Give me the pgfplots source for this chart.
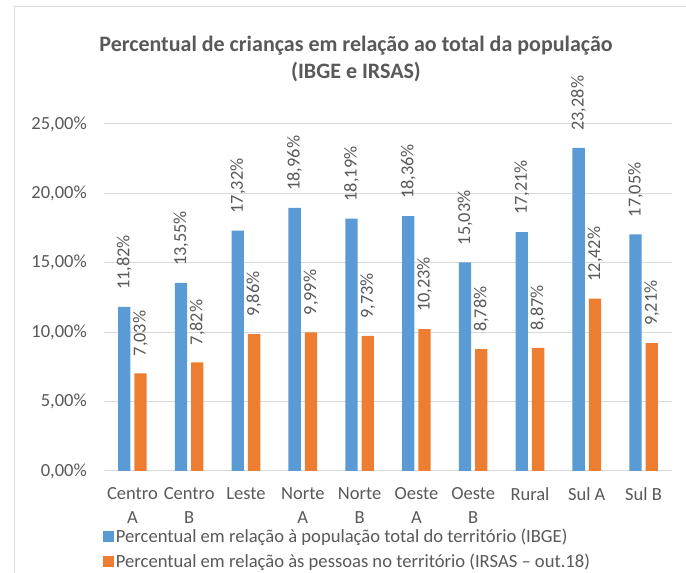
\documentclass[border=0pt]{standalone}
\usepackage{fontspec}
\setmainfont{Carlito}
\usepackage{pgfplots}
\pgfplotsset{compat=1.18}
\definecolor{cblue}{HTML}{5B9BD5}
\definecolor{corange}{HTML}{ED7D31}
\definecolor{ctext}{HTML}{595959}
\definecolor{cgrid}{HTML}{D9D9D9}
\begin{document}
\begin{tikzpicture}
\useasboundingbox (0,0) rectangle (686pt,573pt);
\fill[white] (0,0) rectangle (686pt,573pt);
\draw[cgrid, line width=1pt] (14.5pt,0) -- (14.5pt,566pt) -- (686pt,566pt);
\node[align=center, font=\fontsize{22}{27}\selectfont\bfseries, text=ctext] at (356pt,514pt) {Percentual de crianças em relação ao total da população\\(IBGE e IRSAS)};
\begin{axis}[
  at={(104pt,102pt)}, anchor=south west, scale only axis,
  width=568pt, height=347pt,
  xmin=-0.5, xmax=9.5, ymin=0, ymax=25, clip=false,
  ybar, bar width=12.3pt,
  xtick={0,...,9},
  xticklabels={{Centro\\A},{Centro\\B},Leste,{Norte\\A},{Norte\\B},{Oeste\\A},{Oeste\\B},Rural,Sul A,Sul B},
  xticklabel style={align=center, anchor=north, inner sep=0pt, yshift=-12pt, font=\fontsize{18.5}{24}\selectfont, text=ctext},
  ytick={0,5,10,15,20,25},
  yticklabels={{0,00\%},{5,00\%},{10,00\%},{15,00\%},{20,00\%},{25,00\%}},
  yticklabel style={anchor=east, inner sep=0pt, xshift=-17pt, font=\fontsize{18.5}{22}\selectfont, text=ctext},
  axis x line*=bottom, axis y line*=left,
  x axis line style={draw=cgrid, line width=1pt},
  y axis line style={draw=none},
  tick style={draw=none},
  ymajorgrids, grid style={draw=cgrid, line width=1pt},
  nodes near coords={\pgfmathprintnumber[fixed,zerofill,precision=2,use comma,assume math mode=true]{\pgfplotspointmeta}\%},
  every node near coord/.append style={rotate=90, anchor=west, inner xsep=17pt, inner ysep=0pt, font=\fontsize{18.3}{22}\selectfont, text=ctext},
  legend style={at={(axis description cs:0,0)}, anchor=north west, xshift=-1pt, yshift=-56pt, draw=none, fill=none, font=\fontsize{18.6}{22}\selectfont, text=ctext, row sep=5.5pt, inner sep=0pt},
  legend cell align=left,
]
\addplot[fill=cblue, draw=none, bar shift=-8.15pt,
  legend image code/.code={\fill[cblue] (0pt,-5.3pt) rectangle (10.7pt,5.3pt);}]
  coordinates {(0,11.82) (1,13.55) (2,17.32) (3,18.96) (4,18.19) (5,18.36) (6,15.03) (7,17.21) (8,23.28) (9,17.05)};
\addplot[fill=corange, draw=none, bar shift=8.15pt,
  legend image code/.code={\fill[corange] (0pt,-5.3pt) rectangle (10.7pt,5.3pt);}]
  coordinates {(0,7.03) (1,7.82) (2,9.86) (3,9.99) (4,9.73) (5,10.23) (6,8.78) (7,8.87) (8,12.42) (9,9.21)};
\legend{Percentual em relação à população total do território (IBGE), Percentual em relação às pessoas no território (IRSAS – out.18)}
\end{axis}
\end{tikzpicture}
\end{document}
